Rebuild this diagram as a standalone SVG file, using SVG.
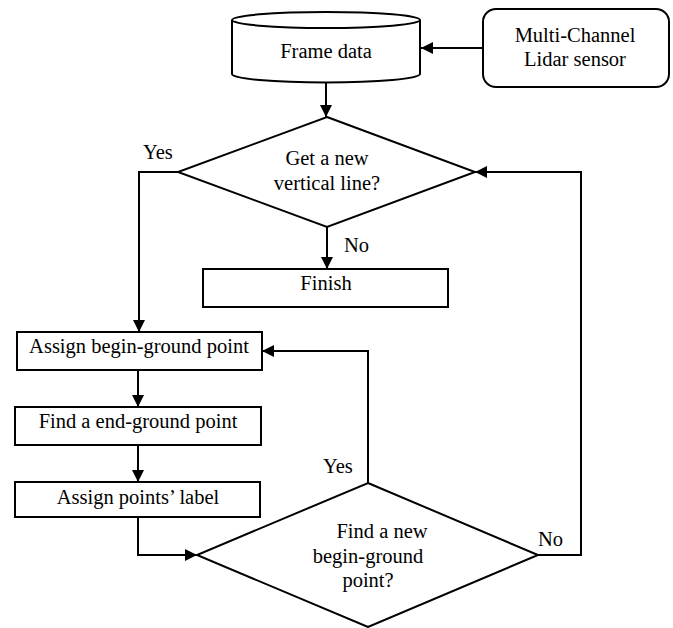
<svg xmlns="http://www.w3.org/2000/svg" width="673" height="628" viewBox="0 0 673 628">
<style>
.s{fill:#fff;stroke:#000;stroke-width:2}
.c{fill:none;stroke:#000;stroke-width:2}
text{font-family:"Liberation Serif","Times New Roman",serif;font-size:20.5px;fill:#000}
.m{text-anchor:middle}
</style>
<defs>
<marker id="a" viewBox="0 0 12 12" refX="12" refY="6" markerWidth="12" markerHeight="12" markerUnits="userSpaceOnUse" orient="auto">
<path d="M0,0 L12,6 L0,12 z" fill="#000"/>
</marker>
</defs>
<rect width="673" height="628" fill="#fff"/>
<g id="frame-data">
<path class="s" d="M232,20 L232,74 A94,8.5 0 0 0 420,74 L420,20"/>
<ellipse class="s" cx="326" cy="20" rx="94" ry="8"/>
<text class="m" x="326" y="58">Frame data</text>
</g>
<g id="lidar">
<rect class="s" x="483" y="9" width="186" height="78" rx="13"/>
<text class="m" x="575" y="42">Multi-Channel</text>
<text class="m" x="575" y="66">Lidar sensor</text>
</g>
<g id="decision1">
<polygon class="s" points="327,117 475,172 327,227 178,172"/>
<text class="m" x="327" y="165">Get a new</text>
<text class="m" x="327" y="190">vertical line?</text>
</g>
<g id="finish">
<rect class="s" x="203" y="269" width="245" height="38"/>
<text class="m" x="326" y="290">Finish</text>
</g>
<g id="assign-begin">
<rect class="s" x="17" y="332" width="245" height="38"/>
<text class="m" x="139" y="353">Assign begin-ground point</text>
</g>
<g id="find-end">
<rect class="s" x="15" y="407" width="246" height="38"/>
<text class="m" x="138" y="428">Find a end-ground point</text>
</g>
<g id="assign-label">
<rect class="s" x="15" y="482" width="245" height="35"/>
<text class="m" x="138" y="504">Assign points’ label</text>
</g>
<g id="decision2">
<polygon class="s" points="368,483 538,555 368,627 197,555"/>
<text class="m" x="382" y="538">Find a new</text>
<text class="m" x="368" y="563">begin-ground</text>
<text class="m" x="368" y="587">point?</text>
</g>
<g id="connectors">
<line class="c" x1="483" y1="48" x2="421" y2="48" marker-end="url(#a)"/>
<line class="c" x1="326" y1="82" x2="326" y2="117" marker-end="url(#a)"/>
<polyline class="c" points="178,172 139,172 139,332" marker-end="url(#a)"/>
<line class="c" x1="327" y1="227" x2="327" y2="269" marker-end="url(#a)"/>
<line class="c" x1="138" y1="370" x2="138" y2="407" marker-end="url(#a)"/>
<line class="c" x1="138" y1="445" x2="138" y2="482" marker-end="url(#a)"/>
<polyline class="c" points="138,517 138,555 197,555" marker-end="url(#a)"/>
<polyline class="c" points="368,483 368,351 262,351" marker-end="url(#a)"/>
<polyline class="c" points="538,555 581,555 581,172 475,172" marker-end="url(#a)"/>
<text x="143" y="159">Yes</text>
<text x="344" y="252">No</text>
<text x="323" y="473">Yes</text>
<text x="538" y="546">No</text>
</g>
</svg>
